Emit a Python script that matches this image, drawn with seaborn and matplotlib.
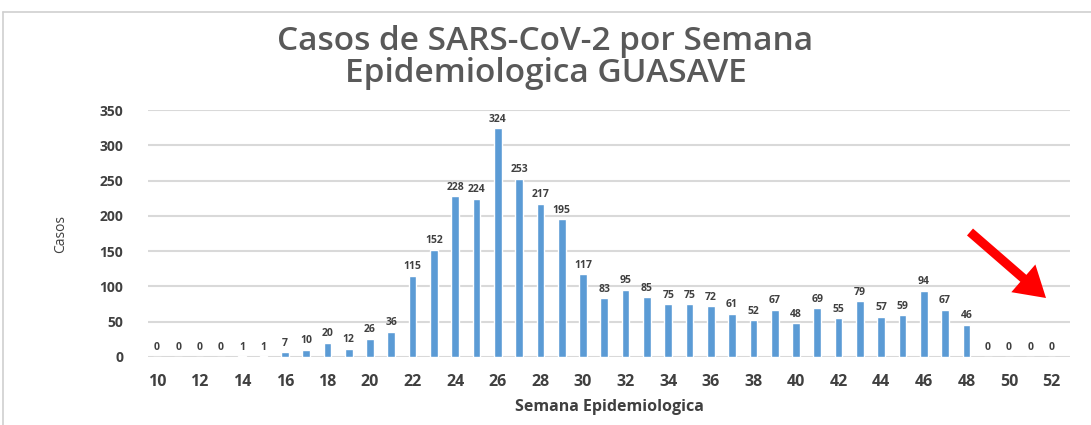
import numpy as np
import pandas as pd
import seaborn as sns
import matplotlib.pyplot as plt
from matplotlib.lines import Line2D

# Semana epidemiologica 10..52 and weekly cases
semanas = list(range(10, 53))
casos = [0, 0, 0, 0, 1, 1, 7, 10, 20, 12, 26, 36, 115, 152, 228, 224, 324,
         253, 217, 195, 117, 83, 95, 85, 75, 75, 72, 61, 52, 67, 48, 69, 55,
         79, 57, 59, 94, 67, 46, 0, 0, 0, 0]
y_ticks = [0, 50, 100, 150, 200, 250, 300, 350]

df = pd.DataFrame({'semana': semanas, 'casos': casos})

sns.set_theme(style="white")
plt.rcParams['font.family'] = ['Open Sans', 'DejaVu Sans']

fig = plt.figure(figsize=(10.91, 4.25), dpi=100)
ax = fig.add_axes([0.1357, 0.16, 0.845, 0.581])

sns.barplot(data=df, x='semana', y='casos', color='#5B9BD5', width=0.36,
            saturation=1, ax=ax, zorder=3)

# data labels
for i, v in enumerate(casos):
    ax.text(i, v + 5, str(v), ha='center', va='bottom', fontsize=7.5,
            fontweight='bold', color='#404040', zorder=4)

ax.set_ylim(0, 350)
ax.set_xlim(-0.42, 42.86)
ax.set_yticks(y_ticks)
ax.set_yticklabels([str(t) for t in y_ticks], fontsize=10, fontweight='bold',
                   color='#404040')
pos = list(range(0, len(semanas), 2))
ax.set_xticks(pos)
ax.set_xticklabels([str(semanas[p]) for p in pos], fontsize=11.5,
                   fontweight='bold', color='#404040')
ax.tick_params(axis='x', pad=12, length=0)
ax.tick_params(axis='y', pad=18, length=0)

for t in y_ticks:
    ax.axhline(t, color='#d9d9d9', lw=1.5, zorder=1)
for s in ax.spines.values():
    s.set_visible(False)

ax.set_xlabel('Semana Epidemiologica', fontsize=11.5, fontweight='bold',
              color='#404040', labelpad=7)
ax.set_ylabel('Casos', fontsize=10, color='#404040', labelpad=22)

fig.text(0.5, 0.903, 'Casos de SARS-CoV-2 por Semana', ha='center',
         va='center', fontsize=24, fontweight='semibold', color='#595959')
fig.text(0.5, 0.828, 'Epidemiologica GUASAVE', ha='center', va='center',
         fontsize=24, fontweight='semibold', color='#595959')

# chart frame (top and left edges)
fig.add_artist(Line2D([0.003, 1.0], [0.972, 0.972], color='#cfcfcf', lw=1.2))
fig.add_artist(Line2D([0.003, 0.003], [0.0, 0.972], color='#cfcfcf', lw=1.2))

# red arrow pointing at the last weeks
ax.annotate('', xy=(1046, 127), xytext=(970, 193),
            xycoords='figure pixels', textcoords='figure pixels',
            arrowprops=dict(arrowstyle='simple,head_width=2.2,head_length=1.8,tail_width=0.55',
                            color='#ff0000', lw=0, shrinkA=0, shrinkB=0),
            annotation_clip=False)

fig.savefig('out.png', dpi=100)
